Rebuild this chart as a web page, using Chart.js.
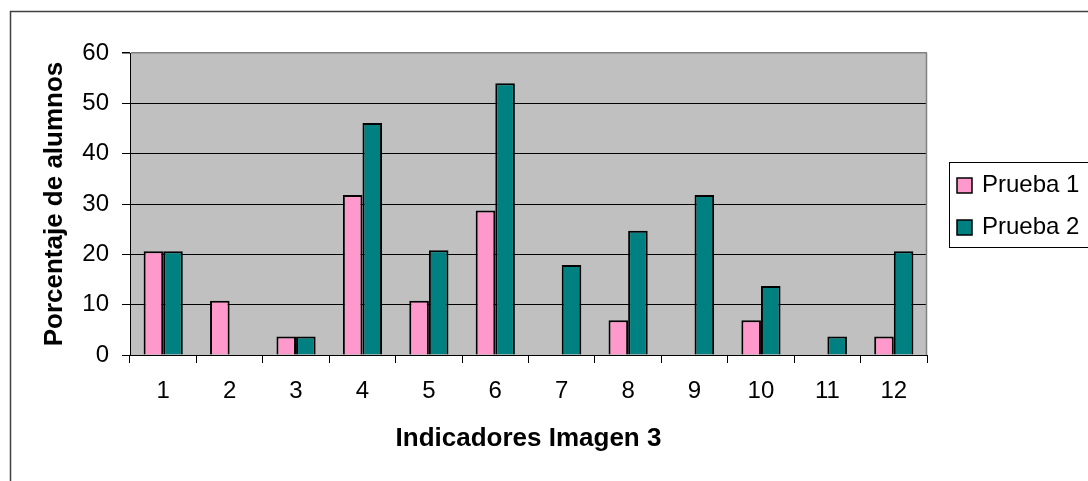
<!DOCTYPE html>
<html>
<head>
<meta charset="utf-8">
<style>
  html, body { margin: 0; padding: 0; background: #ffffff; }
  #wrap { width: 1088px; height: 481px; position: relative; }
  canvas { display: block; }
</style>
<script src="https://cdn.jsdelivr.net/npm/chart.js@4.4.1/dist/chart.umd.min.js"></script>
</head>
<body>
<div id="wrap"><canvas id="c" width="1088" height="481"></canvas></div>
<script>
// ---- data ----
const categories = ['1', '2', '3', '4', '5', '6', '7', '8', '9', '10', '11', '12'];
const seriesNames = ['Prueba 1', 'Prueba 2'];
const prueba1 = [20.6, 10.8, 3.7, 31.8, 10.8, 28.7, 0, 6.9, 0, 6.9, 0, 3.7];
const prueba2 = [20.6, 0, 3.7, 46.1, 20.8, 54.0, 17.9, 24.7, 31.8, 13.7, 3.7, 20.6];
const yTicks = [0, 10, 20, 30, 40, 50, 60];
const xTitle = 'Indicadores Imagen 3';
const yTitle = 'Porcentaje de alumnos';

const FONT = "'Liberation Sans', Arial, sans-serif";

const framePlugin = {
  id: 'frame',
  beforeDraw(chart) {
    const ctx = chart.ctx;
    const a = chart.chartArea;
    ctx.save();
    ctx.fillStyle = '#ffffff';
    ctx.fillRect(0, 0, chart.width, chart.height);
    // outer frame (right/bottom edges fall outside the picture)
    ctx.strokeStyle = '#404040';
    ctx.lineWidth = 1.5;
    ctx.strokeRect(10.5, 11.5, 1200, 600);
    // plot background
    ctx.fillStyle = '#c0c0c0';
    ctx.fillRect(a.left, a.top, a.right - a.left, a.bottom - a.top);
    ctx.restore();
  },
  afterDraw(chart) {
    const ctx = chart.ctx;
    const a = chart.chartArea;
    ctx.save();
    // grey right border of plot area
    ctx.strokeStyle = '#808080';
    ctx.lineWidth = 1.5;
    ctx.beginPath();
    ctx.moveTo(a.right - 0.5, a.top);
    ctx.lineTo(a.right - 0.5, a.bottom);
    ctx.stroke();

    // legend box
    const bx = 949.5, by = 162.5, bh = 85;
    ctx.fillStyle = '#ffffff';
    ctx.fillRect(bx, by, 200, bh);
    ctx.strokeStyle = '#000000';
    ctx.lineWidth = 1;
    ctx.strokeRect(bx, by, 200, bh);
    const ds = chart.data.datasets;
    const rowY = [185.5, 227.5];
    ds.forEach((d, i) => {
      const cy = rowY[i];
      ctx.fillStyle = d.backgroundColor;
      ctx.fillRect(957, cy - 7.5, 15, 15);
      ctx.strokeStyle = '#000000';
      ctx.lineWidth = 1.5;
      ctx.strokeRect(957, cy - 7.5, 15, 15);
      ctx.fillStyle = '#000000';
      ctx.font = '24px ' + FONT;
      ctx.textAlign = 'left';
      ctx.textBaseline = 'middle';
      ctx.fillText(d.label, 982, cy);
    });
    ctx.restore();
  }
};

new Chart(document.getElementById('c'), {
  type: 'bar',
  data: {
    labels: categories,
    datasets: [
      { label: seriesNames[0], data: prueba1, backgroundColor: '#ff99cc', borderColor: '#000000', borderWidth: 2, borderSkipped: 'bottom' },
      { label: seriesNames[1], data: prueba2, backgroundColor: '#008080', borderColor: '#000000', borderWidth: 2, borderSkipped: 'bottom' }
    ]
  },
  options: {
    responsive: false,
    animation: false,
    devicePixelRatio: 1,
    layout: { padding: { left: 0, top: 53, right: 161, bottom: 0 } },
    datasets: { bar: { categoryPercentage: 0.59, barPercentage: 1.0 } },
    plugins: { legend: { display: false }, title: { display: false }, tooltip: { enabled: false } },
    scales: {
      x: {
        offset: true,
        grid: { display: true, offset: true, drawOnChartArea: false, drawTicks: true, tickLength: 8, tickColor: '#000000', tickWidth: 1 },
        border: { display: true, color: '#000000', width: 1 },
        ticks: { color: '#000000', padding: 14, font: { family: FONT, size: 24 }, maxRotation: 0, autoSkip: false },
        title: { display: true, text: xTitle, color: '#000000', font: { family: FONT, size: 26, weight: 'bold' }, padding: { top: 0, bottom: 27 } },
        afterFit(scale) { scale.height = 126; }
      },
      y: {
        min: 0, max: 60,
        afterBuildTicks(scale) { scale.ticks = yTicks.map(v => ({ value: v })); },
        grid: {
          color: (c) => (c.tick && c.tick.value === 60) ? '#808080' : '#000000',
          lineWidth: (c) => (c.tick && c.tick.value === 60) ? 1.5 : 1,
          drawTicks: true, tickLength: 8, tickColor: '#000000'
        },
        border: { display: true, color: '#000000', width: 1 },
        ticks: { color: '#000000', padding: 13, font: { family: FONT, size: 24 } },
        title: { display: true, text: yTitle, color: '#000000', font: { family: FONT, size: 26, weight: 'bold' }, padding: { top: 39, bottom: 0 } },
        afterFit(scale) { scale.width = 130; }
      }
    }
  },
  plugins: [framePlugin]
});
</script>
</body>
</html>
